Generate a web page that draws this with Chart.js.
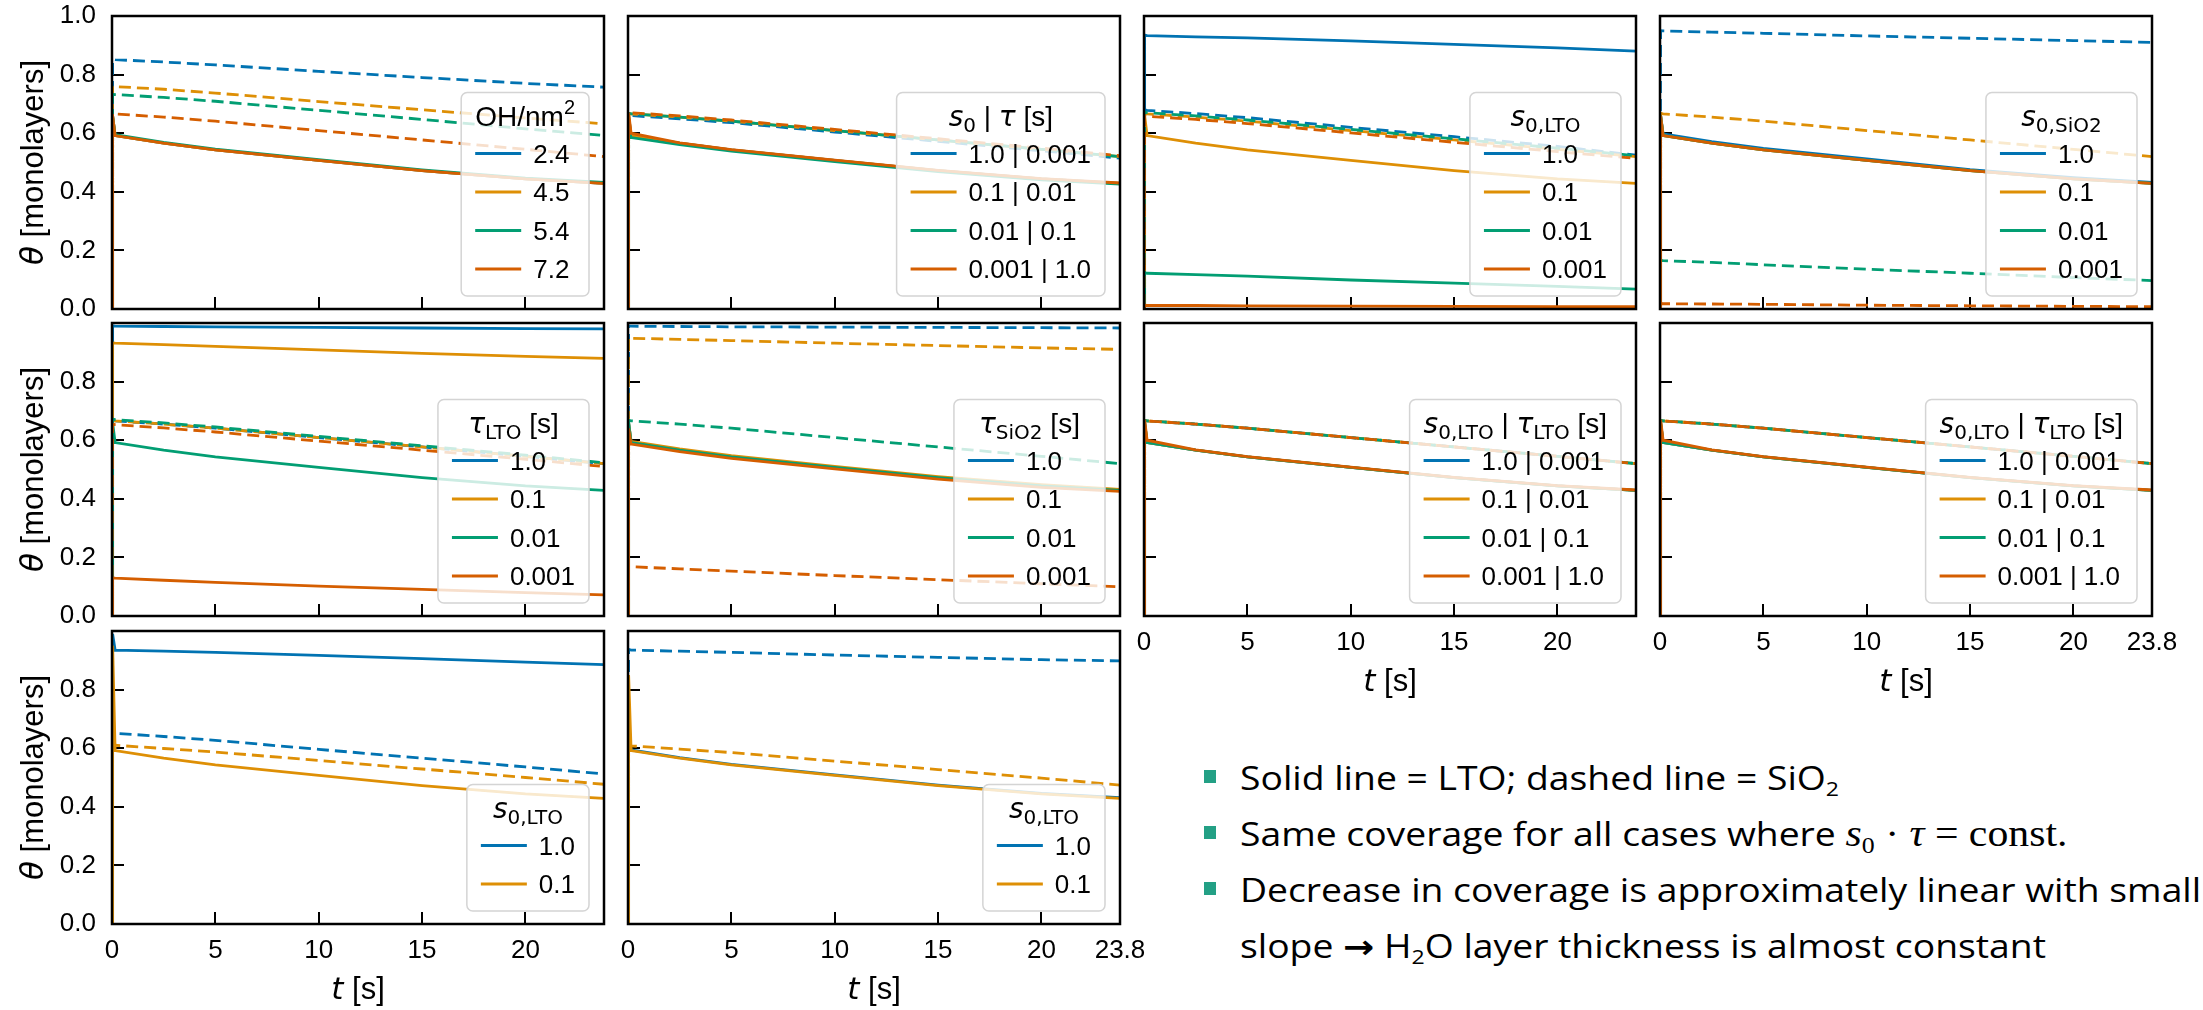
<!DOCTYPE html>
<html>
<head>
<meta charset="utf-8">
<title>Water coverage vs time</title>
<script src="https://cdn.jsdelivr.net/npm/chart.js@4.4.1/dist/chart.umd.min.js"></script>
<style>
  html, body { margin: 0; padding: 0; background: #fff; }
  #figure { position: relative; width: 2203px; height: 1010px; overflow: hidden; }
  #figure canvas { position: absolute; }
  .notes { position: absolute; left: 1204px; top: 750px; font-family: "Open Sans", sans-serif; font-size: 33px; color: #000; }
  .notes div { position: relative; height: 56px; line-height: 56px; white-space: nowrap; padding-left: 36px; }
  .notes div span.line { display: inline-block; transform: scaleX(1.13); transform-origin: left center; }
  .notes .bullet::before { content: ""; position: absolute; left: 0; top: 20px; width: 12px; height: 13px; background: #23a085; }
  .notes sub { font-size: 0.62em; vertical-align: -0.3em; line-height: 0; }
  .notes .math { font-family: "Liberation Serif", serif; font-size: 1.12em; }
  .notes .arrow { font-family: "DejaVu Sans", sans-serif; font-weight: bold; }
</style>
</head>
<body>
<div id="figure">
  <div class="notes">
    <div class="bullet"><span class="line">Solid line = LTO; dashed line = SiO<sub>2</sub></span></div>
    <div class="bullet"><span class="line">Same coverage for all cases where <span class="math"><i>s</i><sub>0</sub> · <i>τ</i> = const.</span></span></div>
    <div class="bullet"><span class="line">Decrease in coverage is approximately linear with small</span></div>
    <div><span class="line">slope <span class="arrow">→</span> H<sub>2</sub>O layer thickness is almost constant</span></div>
  </div>
</div>
<script>
// sample times shared by every run [s]
const timeS = [0, 0.03, 0.15, 2.5, 5, 10, 15, 20, 23.8];

const timeTicks = [0, 5, 10, 15, 20, 23.8];
const timeTickLabels = ['0', '5', '10', '15', '20', '23.8'];
const thetaTicks = [0, 0.2, 0.4, 0.6, 0.8, 1.0];
const thetaTickLabels = ['0.0', '0.2', '0.4', '0.6', '0.8', '1.0'];

const colors = ['#0173b2', '#de8f05', '#029e73', '#d55e00'];

// default parameter set, LTO (solid) and SiO2 (dashed)
const ltoRef = [0, 0.660, 0.592, 0.566, 0.543, 0.507, 0.472, 0.444, 0.429];
const sio2Ref = [0, 0.668, 0.666, 0.655, 0.641, 0.609, 0.577, 0.545, 0.520];
const ltoLoop = [0, 0.670, 0.600, 0.567, 0.544, 0.508, 0.473, 0.445, 0.430];

// OH density
const ohLabels = ['2.4', '4.5', '5.4', '7.2'];
const ohSolid = [
    ltoRef,
    ltoRef,
    [0, 0.655, 0.595, 0.569, 0.546, 0.510, 0.475, 0.447, 0.432],
    ltoRef
];
const ohDashed = [
    [0, 0.852, 0.851, 0.843, 0.833, 0.811, 0.790, 0.770, 0.757],
    [0, 0.760, 0.759, 0.750, 0.737, 0.708, 0.680, 0.652, 0.632],
    [0, 0.733, 0.732, 0.722, 0.709, 0.678, 0.647, 0.615, 0.592],
    sio2Ref
];

// s0 | tau, both materials
const s0TauLabels = ['1.0 | 0.001', '0.1 | 0.01', '0.01 | 0.1', '0.001 | 1.0'];
const s0TauSolid = [
    ltoRef,
    ltoRef,
    [0, 0.620, 0.585, 0.561, 0.539, 0.503, 0.469, 0.441, 0.426],
    ltoLoop
];
const s0TauDashed = [
    [0, 0.662, 0.660, 0.649, 0.636, 0.604, 0.572, 0.540, 0.515],
    sio2Ref,
    sio2Ref,
    [0, 0.672, 0.670, 0.659, 0.645, 0.613, 0.581, 0.549, 0.523]
];

// sticking coefficient on LTO
const s0Labels = ['1.0', '0.1', '0.01', '0.001'];
const s0LtoSolid = [
    [0, 0.935, 0.933, 0.929, 0.925, 0.915, 0.903, 0.891, 0.880],
    ltoRef,
    [0, 0.124, 0.122, 0.117, 0.112, 0.099, 0.088, 0.077, 0.068],
    [0, 0.013, 0.012, 0.012, 0.011, 0.010, 0.009, 0.008, 0.008]
];
const s0LtoDashed = [
    [0, 0.680, 0.678, 0.667, 0.653, 0.620, 0.588, 0.555, 0.525],
    sio2Ref,
    [0, 0.672, 0.670, 0.659, 0.645, 0.613, 0.581, 0.549, 0.523],
    [0, 0.660, 0.658, 0.647, 0.633, 0.601, 0.569, 0.537, 0.514]
];

// sticking coefficient on SiO2
const s0Sio2Solid = [
    [0, 0.660, 0.598, 0.571, 0.548, 0.512, 0.476, 0.448, 0.432],
    ltoRef,
    ltoRef,
    ltoRef
];
const s0Sio2Dashed = [
    [0, 0.950, 0.949, 0.945, 0.941, 0.932, 0.924, 0.916, 0.910],
    sio2Ref,
    [0, 0.166, 0.165, 0.159, 0.151, 0.136, 0.122, 0.107, 0.097],
    [0, 0.019, 0.018, 0.017, 0.016, 0.013, 0.011, 0.009, 0.008]
];

// residence time on LTO
const tauLabels = ['1.0', '0.1', '0.01', '0.001'];
const tauLtoSolid = [
    [0, 0.990, 0.989, 0.988, 0.987, 0.985, 0.983, 0.981, 0.980],
    [0, 0.932, 0.931, 0.926, 0.920, 0.908, 0.896, 0.886, 0.879],
    ltoRef,
    [0, 0.130, 0.129, 0.122, 0.115, 0.102, 0.091, 0.080, 0.072]
];
const tauLtoDashed = [
    sio2Ref,
    sio2Ref,
    [0, 0.672, 0.670, 0.659, 0.645, 0.613, 0.581, 0.549, 0.523],
    [0, 0.655, 0.653, 0.642, 0.628, 0.597, 0.566, 0.535, 0.510]
];

// residence time on SiO2
const tauSio2Solid = [
    ltoRef,
    [0, 0.660, 0.596, 0.570, 0.547, 0.511, 0.476, 0.448, 0.432],
    ltoRef,
    [0, 0.640, 0.587, 0.561, 0.538, 0.502, 0.467, 0.439, 0.425]
];
const tauSio2Dashed = [
    [0, 0.990, 0.989, 0.988, 0.987, 0.986, 0.985, 0.984, 0.983],
    [0, 0.950, 0.948, 0.944, 0.940, 0.931, 0.923, 0.915, 0.910],
    sio2Ref,
    [0, 0.170, 0.168, 0.161, 0.153, 0.138, 0.124, 0.110, 0.100]
];

// s0 | tau varied together on LTO
const pairASolid = [ltoRef, ltoRef, ltoRef, ltoLoop];
const pairADashed = [sio2Ref, sio2Ref, sio2Ref, sio2Ref];
const pairBSolid = [ltoRef, ltoRef, ltoRef, ltoLoop];
const pairBDashed = [sio2Ref, sio2Ref, sio2Ref, sio2Ref];

// two-value s0,LTO runs
const twoLabels = ['1.0', '0.1'];
const caseASolid = [
    [0, 0.990, 0.935, 0.931, 0.927, 0.917, 0.906, 0.894, 0.885],
    [0, 0.950, 0.592, 0.566, 0.543, 0.507, 0.472, 0.444, 0.429]
];
const caseADashed = [
    [0, 0.652, 0.651, 0.640, 0.627, 0.596, 0.566, 0.536, 0.512],
    [0, 0.612, 0.610, 0.599, 0.587, 0.558, 0.529, 0.500, 0.477]
];
const caseBSolid = [
    [0, 0.640, 0.594, 0.568, 0.545, 0.509, 0.474, 0.446, 0.431],
    [0, 0.850, 0.592, 0.566, 0.543, 0.507, 0.472, 0.444, 0.429]
];
const caseBDashed = [
    [0, 0.937, 0.935, 0.931, 0.927, 0.918, 0.910, 0.902, 0.898],
    [0, 0.610, 0.608, 0.597, 0.585, 0.556, 0.527, 0.498, 0.474]
];

// rich text pieces: rm = upright, it = math italic, sub / sup = scripts
const rm = t => ({ t: t, s: 'rm' });
const it = t => ({ t: t, s: 'it' });
const sub = t => ({ t: t, s: 'sub' });
const sup = t => ({ t: t, s: 'sup' });

const panels = [
    { row: 0, col: 0, title: [rm('OH/nm'), sup('2')], labels: ohLabels, solid: ohSolid, dashed: ohDashed },
    { row: 0, col: 1, title: [it('s'), sub('0'), rm(' | '), it('τ'), rm(' [s]')], labels: s0TauLabels, solid: s0TauSolid, dashed: s0TauDashed },
    { row: 0, col: 2, title: [it('s'), sub('0,LTO')], labels: s0Labels, solid: s0LtoSolid, dashed: s0LtoDashed },
    { row: 0, col: 3, title: [it('s'), sub('0,SiO2')], labels: s0Labels, solid: s0Sio2Solid, dashed: s0Sio2Dashed },
    { row: 1, col: 0, title: [it('τ'), sub('LTO'), rm(' [s]')], labels: tauLabels, solid: tauLtoSolid, dashed: tauLtoDashed },
    { row: 1, col: 1, title: [it('τ'), sub('SiO2'), rm(' [s]')], labels: tauLabels, solid: tauSio2Solid, dashed: tauSio2Dashed },
    { row: 1, col: 2, title: [it('s'), sub('0,LTO'), rm(' | '), it('τ'), sub('LTO'), rm(' [s]')], labels: s0TauLabels, solid: pairASolid, dashed: pairADashed },
    { row: 1, col: 3, title: [it('s'), sub('0,LTO'), rm(' | '), it('τ'), sub('LTO'), rm(' [s]')], labels: s0TauLabels, solid: pairBSolid, dashed: pairBDashed },
    { row: 2, col: 0, title: [it('s'), sub('0,LTO')], labels: twoLabels, solid: caseASolid, dashed: caseADashed },
    { row: 2, col: 1, title: [it('s'), sub('0,LTO')], labels: twoLabels, solid: caseBSolid, dashed: caseBDashed }
];

const COL_X = [112, 628, 1144, 1660];
const ROW_Y = [16, 323, 631];
const PANEL_W = 492;
const PANEL_H = 293;

const TEXT_FONT = '"Liberation Sans", Arial, sans-serif';
const MATH_FONT = '"DejaVu Sans", sans-serif';

Chart.defaults.font.family = TEXT_FONT;
Chart.defaults.font.size = 26;
Chart.defaults.color = '#000';

function partFont(part, size) {
    if (part.s === 'it') return 'italic ' + size + 'px ' + MATH_FONT;
    if (part.s === 'sub') return Math.round(size * 0.7) + 'px ' + MATH_FONT;
    if (part.s === 'sup') return Math.round(size * 0.7) + 'px ' + TEXT_FONT;
    return size + 'px ' + TEXT_FONT;
}

function richWidth(ctx, parts, size) {
    return parts.reduce((w, p) => {
        ctx.font = partFont(p, size);
        return w + ctx.measureText(p.t).width;
    }, 0);
}

function drawRich(ctx, parts, x, baseline, size) {
    let cx = x;
    ctx.textAlign = 'left';
    ctx.textBaseline = 'alphabetic';
    parts.forEach(p => {
        ctx.font = partFont(p, size);
        let dy = 0;
        if (p.s === 'sub') dy = size * 0.22;
        if (p.s === 'sup') dy = -size * 0.42;
        ctx.fillText(p.t, cx, baseline + dy);
        cx += ctx.measureText(p.t).width;
    });
}

// full box round the plot, drawn over the curves
const frame = {
    id: 'frame',
    afterDatasetsDraw(chart) {
        const { ctx, chartArea: a } = chart;
        ctx.save();
        ctx.strokeStyle = '#000';
        ctx.lineWidth = 2.5;
        ctx.strokeRect(a.left, a.top, a.right - a.left, a.bottom - a.top);
        ctx.restore();
    }
};

// lower-right legend with a math title
function legendPlugin(p) {
    return {
        id: 'panelLegend',
        afterDraw(chart) {
            const { ctx, chartArea: a } = chart;
            const size = 26, titleSize = 28, pad = 14, handle = 46, gap = 12, step = 38.5;
            ctx.save();
            const titleW = richWidth(ctx, p.title, titleSize);
            ctx.font = size + 'px ' + TEXT_FONT;
            const textW = Math.max(...p.labels.map(l => ctx.measureText(l).width));
            const w = Math.max(titleW, handle + gap + textW) + 2 * pad;
            const h = 61 + (p.labels.length - 1) * step + 27;
            const x = a.right - 15 - w;
            const y = a.bottom - 13 - h;

            ctx.beginPath();
            ctx.roundRect(x, y, w, h, 6);
            ctx.fillStyle = 'rgba(255,255,255,0.8)';
            ctx.fill();
            ctx.strokeStyle = '#d4d4d4';
            ctx.lineWidth = 1.5;
            ctx.stroke();

            ctx.fillStyle = '#000';
            drawRich(ctx, p.title, x + (w - titleW) / 2, y + 33, titleSize);

            p.labels.forEach((label, i) => {
                const cy = y + 61 + i * step;
                ctx.beginPath();
                ctx.moveTo(x + pad, cy);
                ctx.lineTo(x + pad + handle, cy);
                ctx.strokeStyle = colors[i];
                ctx.lineWidth = 2.8;
                ctx.stroke();
                ctx.fillStyle = '#000';
                ctx.font = size + 'px ' + TEXT_FONT;
                ctx.textAlign = 'left';
                ctx.textBaseline = 'alphabetic';
                ctx.fillText(label, x + pad + handle + gap, cy + 9.3);
            });
            ctx.restore();
        }
    };
}

function axisTitlePlugin(showX, showY) {
    return {
        id: 'axisTitles',
        afterDraw(chart) {
            const { ctx, chartArea: a } = chart;
            const size = 31;
            ctx.save();
            ctx.fillStyle = '#000';
            if (showX) {
                const parts = [it('t'), rm(' [s]')];
                const w = richWidth(ctx, parts, size);
                drawRich(ctx, parts, (a.left + a.right) / 2 - w / 2, a.bottom + 75, size);
            }
            if (showY) {
                const parts = [it('θ'), rm(' [monolayers]')];
                const w = richWidth(ctx, parts, size);
                ctx.translate(a.left - 80, (a.top + a.bottom) / 2);
                ctx.rotate(-Math.PI / 2);
                drawRich(ctx, parts, -w / 2, 11, size);
            }
            ctx.restore();
        }
    };
}

function lineSet(values, color, dashed, i) {
    return {
        data: timeS.map((t, k) => ({ x: t, y: values[k] })),
        borderColor: color,
        borderWidth: 2.8,
        borderDash: dashed ? [12, 6] : [],
        borderDashOffset: dashed ? i * 5 : 0,
        pointRadius: 0,
        fill: false,
        tension: 0
    };
}

const tickGrid = {
    display: true,
    drawOnChartArea: false,
    drawTicks: true,
    tickLength: -12,
    color: '#000',
    lineWidth: 2
};

// pin the axis box sizes so every plot area lands on the grid
function pinAxis(size, horizontal) {
    return s => {
        if (horizontal) s.height = size; else s.width = size;
        s.paddingTop = 0;
        s.paddingBottom = 0;
        s.paddingLeft = 0;
        s.paddingRight = 0;
    };
}

function buildPanel(fig, p) {
    const showX = p.row === 2 || (p.row === 1 && p.col >= 2);
    const showY = p.col === 0;
    const ml = showY ? COL_X[0] : 20;
    const mt = 18, mr = 36, mb = showX ? 95 : 20;

    const canvas = document.createElement('canvas');
    canvas.width = PANEL_W + ml + mr;
    canvas.height = PANEL_H + mt + mb;
    canvas.style.left = (COL_X[p.col] - ml) + 'px';
    canvas.style.top = (ROW_Y[p.row] - mt) + 'px';
    fig.appendChild(canvas);

    const datasets = [];
    p.solid.forEach((vals, i) => {
        datasets.push(lineSet(vals, colors[i], false, i));
        datasets.push(lineSet(p.dashed[i], colors[i], true, i));
    });
    datasets.reverse(); // first dataset is painted last, keep red on top

    new Chart(canvas, {
        type: 'line',
        data: { datasets: datasets },
        options: {
            responsive: false,
            animation: false,
            devicePixelRatio: 1,
            events: [],
            layout: { padding: { top: mt, right: mr, left: 0, bottom: 0 } },
            plugins: { legend: { display: false }, tooltip: { enabled: false } },
            scales: {
                x: {
                    type: 'linear', min: 0, max: 23.8, bounds: 'data',
                    afterBuildTicks: s => { s.ticks = timeTicks.map(v => ({ value: v })); },
                    afterFit: pinAxis(mb, true),
                    ticks: {
                        display: showX, autoSkip: false, maxRotation: 0, padding: 23,
                        callback: (v, i) => (i === timeTicks.length - 1 && p.col % 2 === 0) ? '' : timeTickLabels[i]
                    },
                    grid: tickGrid,
                    border: { display: false }
                },
                y: {
                    type: 'linear', min: 0, max: 1, bounds: 'data',
                    afterBuildTicks: s => { s.ticks = thetaTicks.map(v => ({ value: v })); },
                    afterFit: pinAxis(ml, false),
                    ticks: {
                        display: showY, autoSkip: false, padding: 28,
                        callback: (v, i) => (i === thetaTicks.length - 1 && p.row > 0) ? '' : thetaTickLabels[i]
                    },
                    grid: tickGrid,
                    border: { display: false }
                }
            }
        },
        plugins: [frame, legendPlugin(p), axisTitlePlugin(showX, showY)]
    });
}

document.addEventListener('DOMContentLoaded', function () {
    const fig = document.getElementById('figure');
    panels.forEach(p => buildPanel(fig, p));
});
</script>
</body>
</html>
